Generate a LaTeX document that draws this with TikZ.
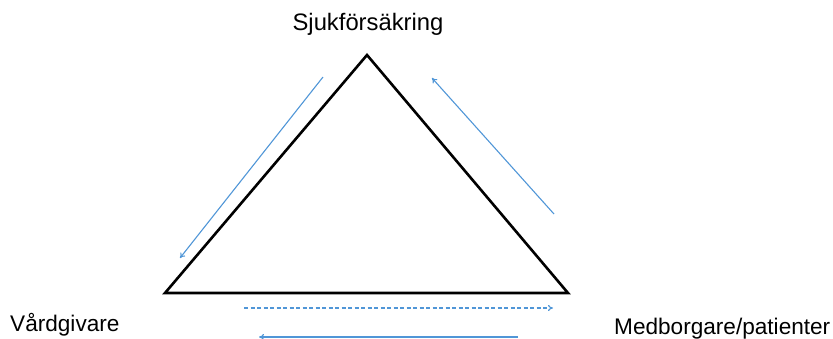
\documentclass[tikz,border=0pt]{standalone}
\usepackage{fontspec}
\setmainfont{Liberation Sans}
\usetikzlibrary{arrows.meta}
\definecolor{flowblue}{RGB}{80,150,215}
\begin{document}
\begin{tikzpicture}[x=1pt,y=-1pt,
  lbl/.style={inner sep=0pt,font=\fontsize{22.6}{27}\selectfont},
  flow/.style={draw=flowblue,line width=1.1pt,-{To[length=5pt,width=6pt]}},
  tri/.style={draw=black,line width=2.6pt,line join=miter}]
\useasboundingbox (0,0) rectangle (833,338);
\coordinate (top) at (367,55);
\coordinate (bl) at (165,293);
\coordinate (br) at (568,293);
\draw[tri] (top) -- (br) -- (bl) -- cycle;
\node[lbl,anchor=base,font=\fontsize{23.8}{28}\selectfont] (sjuk) at (368,30) {Sjukförsäkring};
\node[lbl,anchor=base west] (vard) at (10,331) {Vårdgivare};
\node[lbl,anchor=base west] (med) at (614,334) {Medborgare/patienter};
\coordinate (a1s) at (323,77);
\coordinate (a1e) at (180,258);
\coordinate (a2s) at (554,214);
\coordinate (a2e) at (432,78);
\coordinate (a3s) at (244,308);
\coordinate (a3e) at (553,308);
\coordinate (a4s) at (518,337);
\coordinate (a4e) at (259,337);
\draw[flow] (a1s) -- (a1e);
\draw[flow] (a2s) -- (a2e);
\draw[flow,dash pattern=on 4pt off 2.5pt] (a3s) -- (a3e);
\draw[flow] (a4s) -- (a4e);
\end{tikzpicture}
\end{document}
